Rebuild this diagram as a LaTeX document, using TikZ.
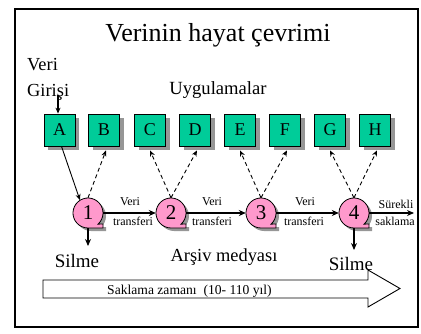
\documentclass[tikz,border=0pt]{standalone}
\usepackage{fontspec}
\setmainfont{Liberation Serif}
\usetikzlibrary{arrows.meta}
\definecolor{boxgreen}{RGB}{0,204,153}
\definecolor{tapepink}{RGB}{255,153,204}
\definecolor{shadowgray}{RGB}{150,150,150}
\tikzset{
  fs/.style={font=\fontsize{#1}{#1}\selectfont},
  appbox/.style={draw=black, fill=boxgreen, minimum width=31pt, minimum height=32pt,
    inner sep=0pt, fs=18, line width=0.8pt},
  boxshadow/.style={fill=shadowgray, minimum width=31pt, minimum height=32pt, inner sep=0pt},
  tapenum/.style={circle, minimum size=30pt, inner sep=0pt, fs=21},
  arr/.style={-{Stealth[length=6pt,width=5pt]}, line width=0.9pt},
  darr/.style={arr, dash pattern=on 4pt off 3pt},
  thk/.style={-{Stealth[length=7pt,width=6pt]}, line width=1.8pt},
  lbl/.style={fs=12, inner sep=0pt, anchor=base},
  big/.style={fs=19, inner sep=0pt, anchor=base},
}
\newcommand\tapepath[3]{% x, y, options
  \path[#3] (#1,#2) ++(-48:15pt) arc[start angle=-48, end angle=270, radius=15pt]
    -- ++(15pt,0pt) -- ++(0pt,4pt) -- cycle;
}
\begin{document}
\begin{tikzpicture}[x=1pt,y=1pt]
\useasboundingbox (0,0) rectangle (421,333);
% frame
\draw[line width=1.3pt] (15,6) rectangle (418,324);
% title
\node[fs=26, inner sep=0pt, anchor=base] (title) at (218,291) {Verinin hayat çevrimi};
\node[big, fs=18.4, anchor=base west] (veri) at (27,262) {Veri};
\node[big, fs=18.4, anchor=base west] (giris) at (27,237) {Girişi};
\node[big, fs=18.6] (uyg) at (218,239) {Uygulamalar};
% boxes
\foreach \n/\x in {A/59.5,B/104,C/150,D/195,E/240,F/285,G/330,H/375}{
  \node[boxshadow] at (\x+4,199) {};
  \node[appbox] (\n) at (\x,203) {\raisebox{-2.5pt}{\n}};
}
% tapes
\foreach \i/\x in {1/88,2/171,3/261,4/354}{
  \tapepath{\x+3}{117}{fill=shadowgray}
  \tapepath{\x}{120}{draw=black, fill=tapepink, line width=0.8pt}
  \node[tapenum] (c\i) at (\x,120) {\i};
}
% input arrow
\coordinate (vin) at (58,238);
\draw[arr, line width=1.2pt] (vin) -- (vin |- A.north);
% A to tape 1
\draw[arr] ([xshift=2pt]A.south) -- (c1.122);
% dashed reads
\draw[darr] (c1.north) -- ([shift={(2pt,-4pt)}]B.south);
\draw[darr] (c2.north) -- ([shift={(0pt,-4pt)}]C.south);
\draw[darr] (c2.north) -- ([shift={(2pt,-4pt)}]D.south);
\draw[darr] (c3.north) -- ([shift={(0pt,-4pt)}]E.south);
\draw[darr] (c3.north) -- ([shift={(2pt,-4pt)}]F.south);
\draw[darr] (c4.north) -- ([shift={(0pt,-4pt)}]G.south);
\draw[darr] (c4.north) -- ([shift={(2pt,-4pt)}]H.south);
% transfers
\draw[thk] (c1.east) -- (c2.west);
\draw[thk] (c2.east) -- (c3.west);
\draw[thk] (c3.east) -- (c4.west);
\coordinate (keep) at (414,120);
\draw[thk] (c4.east) -- (keep);
\node[lbl] (v1) at (130,128) {Veri};
\node[lbl] (t1) at (133,108) {transferi};
\node[lbl] (v2) at (212,128) {Veri};
\node[lbl] (t2) at (212,108) {transferi};
\node[lbl] (v3) at (305,128) {Veri};
\node[lbl] (t3) at (304,108) {transferi};
\node[lbl] (s1) at (396,125) {Sürekli};
\node[lbl] (s2) at (395,108) {saklama};
% deletions
\coordinate (del1) at (88,87);
\coordinate (del4) at (354,83);
\draw[thk] (c1.south) -- (del1);
\draw[thk] (c4.south) -- (del4);
\node[big] (silme1) at (77,66) {Silme};
\node[big] (silme4) at (351,63) {Silme};
\node[big, fs=18.4] (arsiv) at (224,72) {Arşiv medyası};
% time arrow
\draw[line width=0.9pt, fill=white] (43,53) -- (368,53) -- (368,63) -- (400,44.5) -- (368,26)
  -- (368,35) -- (43,35) -- cycle;
\node[fs=13.6, inner sep=0pt, anchor=base west] (zaman) at (107,39) {Saklama zamanı\ \ (10- 110 yıl)};
\end{tikzpicture}
\end{document}
